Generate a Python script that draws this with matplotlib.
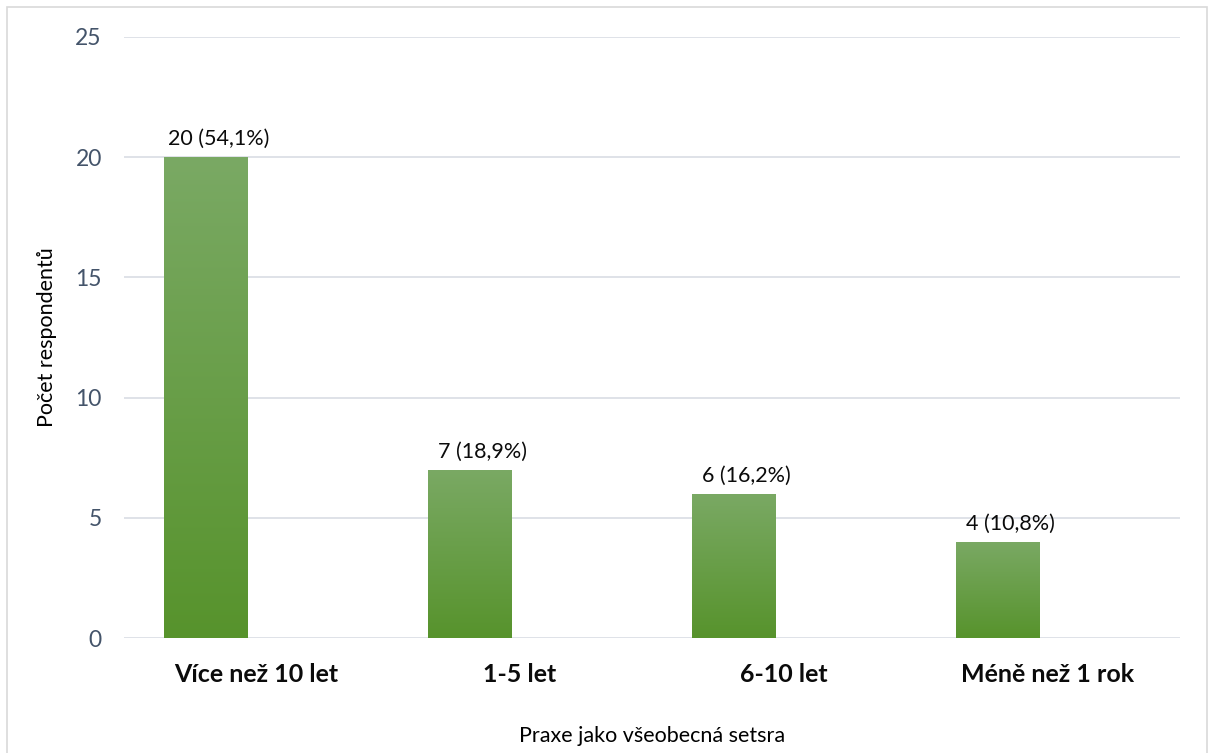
import matplotlib
matplotlib.use("Agg")
import matplotlib.pyplot as plt
import numpy as np
from matplotlib.colors import LinearSegmentedColormap
from matplotlib.patches import Rectangle

categories = ["Více než 10 let", "1-5 let", "6-10 let", "Méně než 1 rok"]
counts = [20, 7, 6, 4]
labels = ["20 (54,1%)", "7 (18,9%)", "6 (16,2%)", "4 (10,8%)"]
y_ticks = [0, 5, 10, 15, 20, 25]

TOP_GREEN = "#7aa964"
BOTTOM_GREEN = "#57932c"
GRID = "#d9dde4"
TICK = "#44546a"
FRAME = "#d9d9d9"

plt.rcParams["font.family"] = ["Lato", "DejaVu Sans"]

fig = plt.figure(figsize=(12.12, 7.53), dpi=100)
ax = fig.add_axes([0.1023, 0.1527, 0.8713, 0.7982])

x = np.arange(len(categories))
offset = -0.19
width = 0.315
bars = ax.bar(x + offset, counts, width, color="none", zorder=2)

# vertical gradient inside each bar
cmap = LinearSegmentedColormap.from_list("green", [BOTTOM_GREEN, TOP_GREEN])
grad = np.linspace(0, 1, 256).reshape(-1, 1)
for rect in bars:
    x0, w, h = rect.get_x(), rect.get_width(), rect.get_height()
    im = ax.imshow(grad, cmap=cmap, origin="lower", aspect="auto",
                   extent=(x0, x0 + w, 0, h), zorder=2)
    im.set_clip_path(rect)

for xi, c, lab in zip(x, counts, labels):
    ax.annotate(lab, (xi + offset, c), xytext=(9, 6), textcoords="offset points",
                ha="center", va="bottom", fontsize=15.5, color="#0b0b0b")

ax.set_xlim(-0.5, len(categories) - 0.5)
ax.set_ylim(0, 25)
ax.set_yticks(y_ticks)
ax.set_yticklabels([str(t) for t in y_ticks], fontsize=16.5, color=TICK)
ax.set_xticks(x)
ax.set_xticklabels(categories, fontsize=18, fontweight="bold", color="#0b0b0b")
ax.tick_params(axis="both", length=0)
ax.tick_params(axis="y", pad=16)
ax.tick_params(axis="x", pad=18)
ax.grid(axis="y", color=GRID, linewidth=1.2, zorder=0)
ax.set_axisbelow(True)
for s in ["top", "right", "left", "bottom"]:
    ax.spines[s].set_visible(False)

ax.set_ylabel("Počet respondentů", fontsize=15.5, labelpad=13)
ax.set_xlabel("Praxe jako všeobecná setsra", fontsize=15.5, labelpad=29)

fig.patches.append(Rectangle((7 / 1212, -0.05), 1200 / 1212, 1.05 - 7 / 753,
                             transform=fig.transFigure, fill=False,
                             edgecolor=FRAME, linewidth=1.2))

fig.savefig("out.png", dpi=100)
